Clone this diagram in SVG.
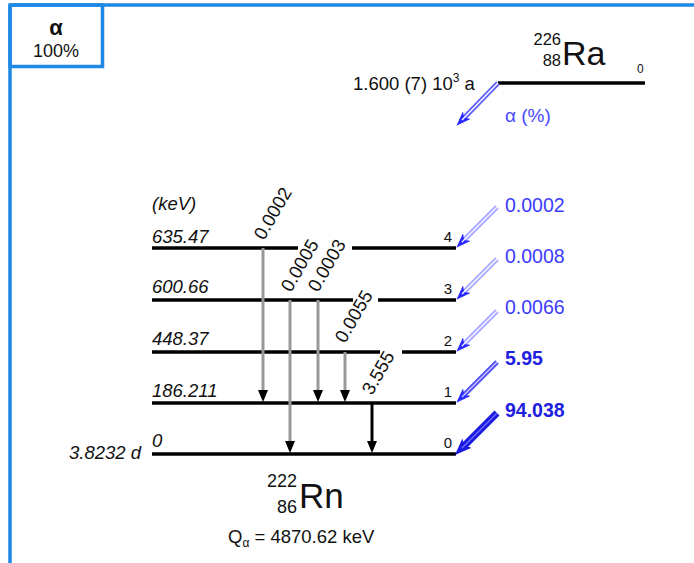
<svg xmlns="http://www.w3.org/2000/svg" width="694" height="563" viewBox="0 0 694 563">
<style>
text{font-family:"Liberation Sans",Arial,sans-serif;fill:#111}
.lvl{stroke:#000;stroke-width:3.5;fill:none}
.en{font-size:18.5px;font-style:italic}
.num{font-size:15px;text-anchor:end}
.gl{font-size:18.5px}
.ga{stroke:#999;stroke-width:3;fill:none}
.al{font-size:19.5px;fill:#3b3bff}
.ab{font-size:19.5px;fill:#2020e0;font-weight:bold}
</style>
<defs>
<marker id="gh" viewBox="0 0 12 10" refX="4" refY="5" markerWidth="12" markerHeight="10" markerUnits="userSpaceOnUse" orient="auto"><path d="M0,0 L12,5 L0,10 Z" fill="#000"/></marker>
<marker id="ah" viewBox="0 0 15 11" refX="7" refY="5.5" markerWidth="15" markerHeight="11" markerUnits="userSpaceOnUse" orient="auto"><path d="M0,0 L15,5.5 L0,11 L4,5.5 Z" fill="#2a2aff"/></marker>
<marker id="ahb" viewBox="0 0 17 13" refX="7" refY="6.5" markerWidth="17" markerHeight="13" markerUnits="userSpaceOnUse" orient="auto"><path d="M0,0 L17,6.5 L0,13 L4,6.5 Z" fill="#1a1ae0"/></marker>
</defs>
<rect width="694" height="563" fill="#fff"/>
<g id="frame" fill="none" stroke="#1e88e5" stroke-width="3.5">
<path d="M10,5 H694 M10,5 V563"/>
<rect x="10" y="5" width="92.5" height="61.5"/>
</g>
<g id="legend">
<text x="56" y="35" text-anchor="middle" style="font-size:22px;font-weight:bold">α</text>
<text x="56" y="57" text-anchor="middle" style="font-size:18px">100%</text>
</g>
<g id="parent">
<line class="lvl" x1="498" y1="83" x2="645" y2="83"/>
<text x="561" y="45" text-anchor="end" style="font-size:16.5px">226</text>
<text x="561" y="66" text-anchor="end" style="font-size:16.5px">88</text>
<text x="562" y="65" style="font-size:34px">Ra</text>
<text x="637" y="73" style="font-size:12px">0</text>
<text x="353" y="90" style="font-size:18.5px">1.600 (7) 10<tspan dy="-8" style="font-size:12px">3</tspan><tspan dy="8"> a</tspan></text>
<text x="505" y="122" style="font-size:19px;fill:#4a4aff">α (%)</text>
</g>
<g id="level4">
<path class="lvl" d="M152,248 H298 M352,248 H456"/>
<text class="en" x="152" y="210">(keV)</text>
<text class="en" x="152" y="243">635.47</text>
<text class="num" x="452" y="242">4</text>
</g>
<g id="level3">
<path class="lvl" d="M152,300 H353 M378,300 H456"/>
<text class="en" x="152" y="293">600.66</text>
<text class="num" x="452" y="294">3</text>
</g>
<g id="level2">
<path class="lvl" d="M152,352 H380 M402,352 H456"/>
<text class="en" x="152" y="345">448.37</text>
<text class="num" x="452" y="346">2</text>
</g>
<g id="level1">
<path class="lvl" d="M152,403 H456"/>
<text class="en" x="152" y="397">186.211</text>
<text class="num" x="452" y="397">1</text>
</g>
<g id="level0">
<path class="lvl" d="M152,454 H456"/>
<text class="en" x="152" y="447">0</text>
<text class="num" x="452" y="448">0</text>
<text class="en" x="141" y="459" text-anchor="end">3.8232 d</text>
</g>
<g id="daughter">
<text x="297" y="487" text-anchor="end" style="font-size:18px">222</text>
<text x="297" y="513" text-anchor="end" style="font-size:18px">86</text>
<text x="299" y="508" style="font-size:35px">Rn</text>
<text x="228" y="543" style="font-size:18.5px">Q<tspan dy="4" style="font-size:12px">α</tspan><tspan dy="-4"> = 4870.62 keV</tspan></text>
</g>
<g id="connectors">
<g id="gammas">
<line class="ga" x1="263" y1="248" x2="263" y2="394" marker-end="url(#gh)"/>
<line class="ga" x1="290" y1="300" x2="290" y2="445" marker-end="url(#gh)"/>
<line class="ga" x1="318" y1="300" x2="318" y2="394" marker-end="url(#gh)"/>
<line class="ga" x1="345" y1="352" x2="345" y2="394" marker-end="url(#gh)"/>
<line x1="372" y1="403" x2="372" y2="445" stroke="#000" stroke-width="3" marker-end="url(#gh)"/>
<text class="gl" transform="translate(264,241) rotate(-60)">0.0002</text>
<text class="gl" transform="translate(291,293) rotate(-60)">0.0005</text>
<text class="gl" transform="translate(318,293) rotate(-60)">0.0003</text>
<text class="gl" transform="translate(345,344) rotate(-60)">0.0055</text>
<text class="gl" transform="translate(372,396) rotate(-60)">3.555</text>
</g>
<g id="alphas" fill="none">
<path d="M498,83 L462,120" stroke="#6060ff" stroke-width="5" marker-end="url(#ah)"/>
<path d="M498,83 L462,120" stroke="#fff" stroke-width="1.3"/>
<path d="M497,207 L462,242" stroke="#a8a8ff" stroke-width="5" marker-end="url(#ah)"/>
<path d="M497,207 L462,242" stroke="#fff" stroke-width="1.3"/>
<path d="M497,259 L462,294" stroke="#a8a8ff" stroke-width="5" marker-end="url(#ah)"/>
<path d="M497,259 L462,294" stroke="#fff" stroke-width="1.3"/>
<path d="M497,311 L462,346" stroke="#a8a8ff" stroke-width="5" marker-end="url(#ah)"/>
<path d="M497,311 L462,346" stroke="#fff" stroke-width="1.3"/>
<path d="M497,362 L462,397" stroke="#5050ff" stroke-width="5" marker-end="url(#ah)"/>
<path d="M497,362 L462,397" stroke="#c8c8ff" stroke-width="1.3"/>
<path d="M497,413 L462,448" stroke="#1a1ae0" stroke-width="7" marker-end="url(#ahb)"/>
<path d="M497,413 L462,448" stroke="#7070ff" stroke-width="1.3"/>
<text class="al" x="505" y="212">0.0002</text>
<text class="al" x="505" y="263">0.0008</text>
<text class="al" x="505" y="314">0.0066</text>
<text class="ab" x="505" y="365">5.95</text>
<text class="ab" x="505" y="417">94.038</text>
</g>
</g>
</svg>
